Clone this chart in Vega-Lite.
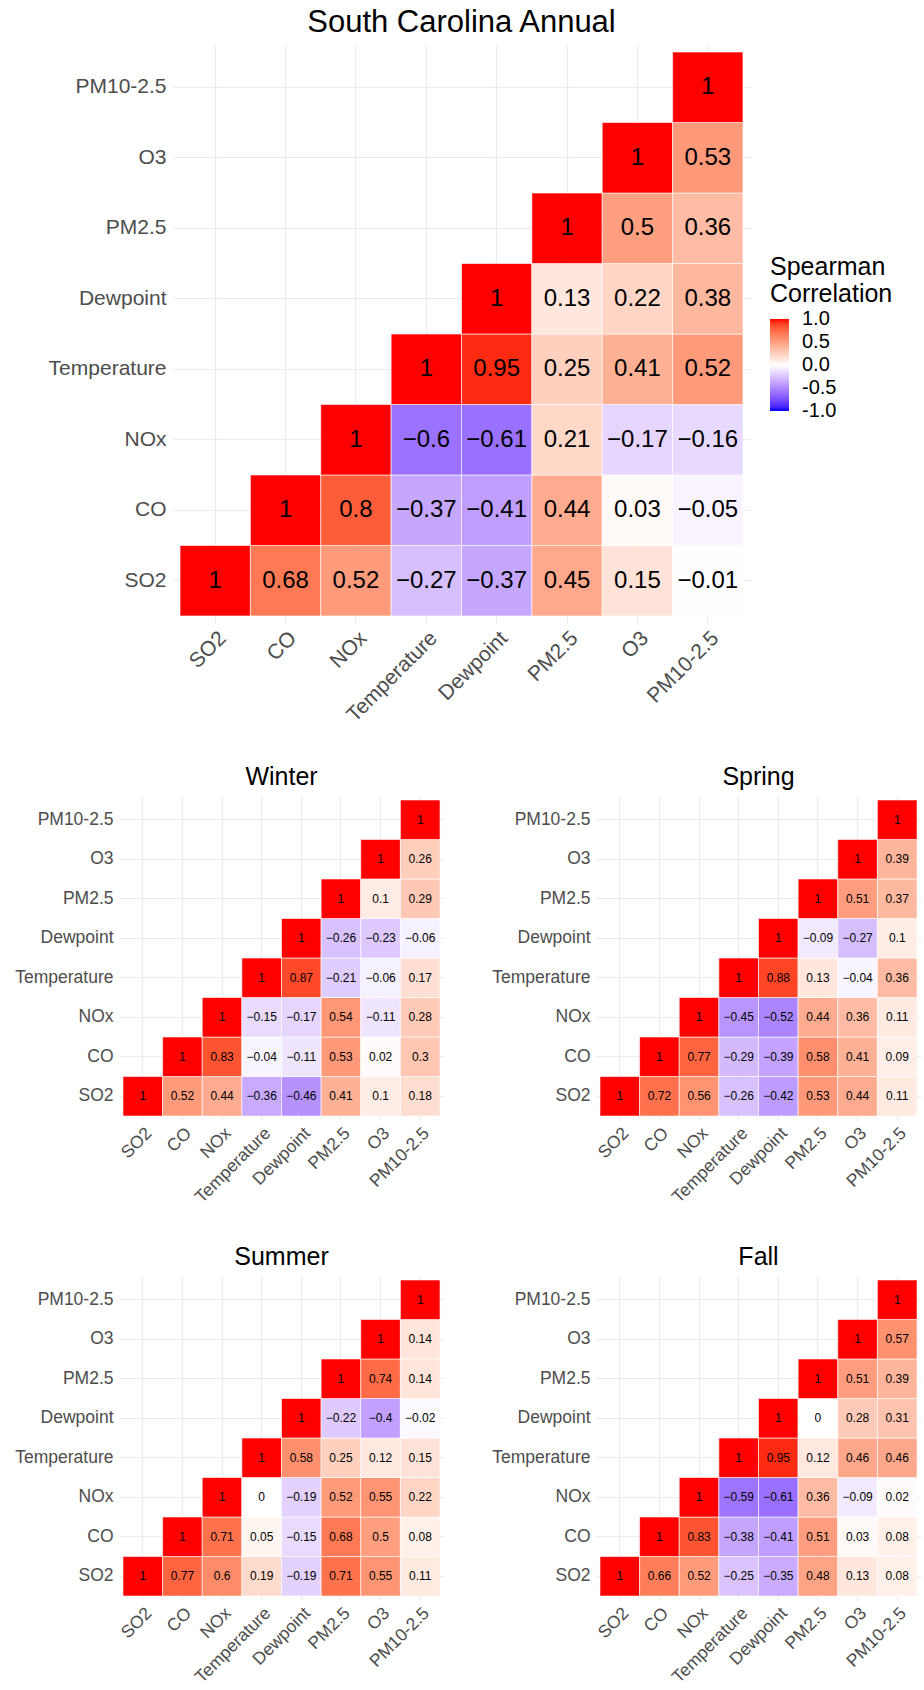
{
  "$schema": "https://vega.github.io/schema/vega-lite/v6.json",
  "padding": {"left": 14, "top": 7, "right": 4, "bottom": 4},
  "config": {
    "view": {"stroke": null},
    "font": "Liberation Sans",
    "axis": {"domain": false, "ticks": false, "tickSize": 0, "zindex": 0, "gridColor": "#EBEBEB", "gridWidth": 1.1, "labelColor": "#4D4D4D", "labelFont": "Liberation Sans", "bandPosition": 0.5, "labelOverlap": false, "labelBound": false, "labelLimit": 300},
    "title": {"font": "Liberation Sans", "fontWeight": "normal", "color": "black", "anchor": "middle", "frame": "group", "baseline": "alphabetic"}
  },
  "datasets": {
    "annual": [
      {"x": "SO2", "y": "SO2", "r": 1}, {"x": "CO", "y": "SO2", "r": 0.68}, {"x": "NOx", "y": "SO2", "r": 0.52}, {"x": "Temperature", "y": "SO2", "r": -0.27}, {"x": "Dewpoint", "y": "SO2", "r": -0.37}, {"x": "PM2.5", "y": "SO2", "r": 0.45}, {"x": "O3", "y": "SO2", "r": 0.15}, {"x": "PM10-2.5", "y": "SO2", "r": -0.01},
      {"x": "CO", "y": "CO", "r": 1}, {"x": "NOx", "y": "CO", "r": 0.8}, {"x": "Temperature", "y": "CO", "r": -0.37}, {"x": "Dewpoint", "y": "CO", "r": -0.41}, {"x": "PM2.5", "y": "CO", "r": 0.44}, {"x": "O3", "y": "CO", "r": 0.03}, {"x": "PM10-2.5", "y": "CO", "r": -0.05},
      {"x": "NOx", "y": "NOx", "r": 1}, {"x": "Temperature", "y": "NOx", "r": -0.6}, {"x": "Dewpoint", "y": "NOx", "r": -0.61}, {"x": "PM2.5", "y": "NOx", "r": 0.21}, {"x": "O3", "y": "NOx", "r": -0.17}, {"x": "PM10-2.5", "y": "NOx", "r": -0.16},
      {"x": "Temperature", "y": "Temperature", "r": 1}, {"x": "Dewpoint", "y": "Temperature", "r": 0.95}, {"x": "PM2.5", "y": "Temperature", "r": 0.25}, {"x": "O3", "y": "Temperature", "r": 0.41}, {"x": "PM10-2.5", "y": "Temperature", "r": 0.52},
      {"x": "Dewpoint", "y": "Dewpoint", "r": 1}, {"x": "PM2.5", "y": "Dewpoint", "r": 0.13}, {"x": "O3", "y": "Dewpoint", "r": 0.22}, {"x": "PM10-2.5", "y": "Dewpoint", "r": 0.38},
      {"x": "PM2.5", "y": "PM2.5", "r": 1}, {"x": "O3", "y": "PM2.5", "r": 0.5}, {"x": "PM10-2.5", "y": "PM2.5", "r": 0.36},
      {"x": "O3", "y": "O3", "r": 1}, {"x": "PM10-2.5", "y": "O3", "r": 0.53},
      {"x": "PM10-2.5", "y": "PM10-2.5", "r": 1}
    ],
    "winter": [
      {"x": "SO2", "y": "SO2", "r": 1}, {"x": "CO", "y": "SO2", "r": 0.52}, {"x": "NOx", "y": "SO2", "r": 0.44}, {"x": "Temperature", "y": "SO2", "r": -0.36}, {"x": "Dewpoint", "y": "SO2", "r": -0.46}, {"x": "PM2.5", "y": "SO2", "r": 0.41}, {"x": "O3", "y": "SO2", "r": 0.1}, {"x": "PM10-2.5", "y": "SO2", "r": 0.18},
      {"x": "CO", "y": "CO", "r": 1}, {"x": "NOx", "y": "CO", "r": 0.83}, {"x": "Temperature", "y": "CO", "r": -0.04}, {"x": "Dewpoint", "y": "CO", "r": -0.11}, {"x": "PM2.5", "y": "CO", "r": 0.53}, {"x": "O3", "y": "CO", "r": 0.02}, {"x": "PM10-2.5", "y": "CO", "r": 0.3},
      {"x": "NOx", "y": "NOx", "r": 1}, {"x": "Temperature", "y": "NOx", "r": -0.15}, {"x": "Dewpoint", "y": "NOx", "r": -0.17}, {"x": "PM2.5", "y": "NOx", "r": 0.54}, {"x": "O3", "y": "NOx", "r": -0.11}, {"x": "PM10-2.5", "y": "NOx", "r": 0.28},
      {"x": "Temperature", "y": "Temperature", "r": 1}, {"x": "Dewpoint", "y": "Temperature", "r": 0.87}, {"x": "PM2.5", "y": "Temperature", "r": -0.21}, {"x": "O3", "y": "Temperature", "r": -0.06}, {"x": "PM10-2.5", "y": "Temperature", "r": 0.17},
      {"x": "Dewpoint", "y": "Dewpoint", "r": 1}, {"x": "PM2.5", "y": "Dewpoint", "r": -0.26}, {"x": "O3", "y": "Dewpoint", "r": -0.23}, {"x": "PM10-2.5", "y": "Dewpoint", "r": -0.06},
      {"x": "PM2.5", "y": "PM2.5", "r": 1}, {"x": "O3", "y": "PM2.5", "r": 0.1}, {"x": "PM10-2.5", "y": "PM2.5", "r": 0.29},
      {"x": "O3", "y": "O3", "r": 1}, {"x": "PM10-2.5", "y": "O3", "r": 0.26},
      {"x": "PM10-2.5", "y": "PM10-2.5", "r": 1}
    ],
    "spring": [
      {"x": "SO2", "y": "SO2", "r": 1}, {"x": "CO", "y": "SO2", "r": 0.72}, {"x": "NOx", "y": "SO2", "r": 0.56}, {"x": "Temperature", "y": "SO2", "r": -0.26}, {"x": "Dewpoint", "y": "SO2", "r": -0.42}, {"x": "PM2.5", "y": "SO2", "r": 0.53}, {"x": "O3", "y": "SO2", "r": 0.44}, {"x": "PM10-2.5", "y": "SO2", "r": 0.11},
      {"x": "CO", "y": "CO", "r": 1}, {"x": "NOx", "y": "CO", "r": 0.77}, {"x": "Temperature", "y": "CO", "r": -0.29}, {"x": "Dewpoint", "y": "CO", "r": -0.39}, {"x": "PM2.5", "y": "CO", "r": 0.58}, {"x": "O3", "y": "CO", "r": 0.41}, {"x": "PM10-2.5", "y": "CO", "r": 0.09},
      {"x": "NOx", "y": "NOx", "r": 1}, {"x": "Temperature", "y": "NOx", "r": -0.45}, {"x": "Dewpoint", "y": "NOx", "r": -0.52}, {"x": "PM2.5", "y": "NOx", "r": 0.44}, {"x": "O3", "y": "NOx", "r": 0.36}, {"x": "PM10-2.5", "y": "NOx", "r": 0.11},
      {"x": "Temperature", "y": "Temperature", "r": 1}, {"x": "Dewpoint", "y": "Temperature", "r": 0.88}, {"x": "PM2.5", "y": "Temperature", "r": 0.13}, {"x": "O3", "y": "Temperature", "r": -0.04}, {"x": "PM10-2.5", "y": "Temperature", "r": 0.36},
      {"x": "Dewpoint", "y": "Dewpoint", "r": 1}, {"x": "PM2.5", "y": "Dewpoint", "r": -0.09}, {"x": "O3", "y": "Dewpoint", "r": -0.27}, {"x": "PM10-2.5", "y": "Dewpoint", "r": 0.1},
      {"x": "PM2.5", "y": "PM2.5", "r": 1}, {"x": "O3", "y": "PM2.5", "r": 0.51}, {"x": "PM10-2.5", "y": "PM2.5", "r": 0.37},
      {"x": "O3", "y": "O3", "r": 1}, {"x": "PM10-2.5", "y": "O3", "r": 0.39},
      {"x": "PM10-2.5", "y": "PM10-2.5", "r": 1}
    ],
    "summer": [
      {"x": "SO2", "y": "SO2", "r": 1}, {"x": "CO", "y": "SO2", "r": 0.77}, {"x": "NOx", "y": "SO2", "r": 0.6}, {"x": "Temperature", "y": "SO2", "r": 0.19}, {"x": "Dewpoint", "y": "SO2", "r": -0.19}, {"x": "PM2.5", "y": "SO2", "r": 0.71}, {"x": "O3", "y": "SO2", "r": 0.55}, {"x": "PM10-2.5", "y": "SO2", "r": 0.11},
      {"x": "CO", "y": "CO", "r": 1}, {"x": "NOx", "y": "CO", "r": 0.71}, {"x": "Temperature", "y": "CO", "r": 0.05}, {"x": "Dewpoint", "y": "CO", "r": -0.15}, {"x": "PM2.5", "y": "CO", "r": 0.68}, {"x": "O3", "y": "CO", "r": 0.5}, {"x": "PM10-2.5", "y": "CO", "r": 0.08},
      {"x": "NOx", "y": "NOx", "r": 1}, {"x": "Temperature", "y": "NOx", "r": 0}, {"x": "Dewpoint", "y": "NOx", "r": -0.19}, {"x": "PM2.5", "y": "NOx", "r": 0.52}, {"x": "O3", "y": "NOx", "r": 0.55}, {"x": "PM10-2.5", "y": "NOx", "r": 0.22},
      {"x": "Temperature", "y": "Temperature", "r": 1}, {"x": "Dewpoint", "y": "Temperature", "r": 0.58}, {"x": "PM2.5", "y": "Temperature", "r": 0.25}, {"x": "O3", "y": "Temperature", "r": 0.12}, {"x": "PM10-2.5", "y": "Temperature", "r": 0.15},
      {"x": "Dewpoint", "y": "Dewpoint", "r": 1}, {"x": "PM2.5", "y": "Dewpoint", "r": -0.22}, {"x": "O3", "y": "Dewpoint", "r": -0.4}, {"x": "PM10-2.5", "y": "Dewpoint", "r": -0.02},
      {"x": "PM2.5", "y": "PM2.5", "r": 1}, {"x": "O3", "y": "PM2.5", "r": 0.74}, {"x": "PM10-2.5", "y": "PM2.5", "r": 0.14},
      {"x": "O3", "y": "O3", "r": 1}, {"x": "PM10-2.5", "y": "O3", "r": 0.14},
      {"x": "PM10-2.5", "y": "PM10-2.5", "r": 1}
    ],
    "fall": [
      {"x": "SO2", "y": "SO2", "r": 1}, {"x": "CO", "y": "SO2", "r": 0.66}, {"x": "NOx", "y": "SO2", "r": 0.52}, {"x": "Temperature", "y": "SO2", "r": -0.25}, {"x": "Dewpoint", "y": "SO2", "r": -0.35}, {"x": "PM2.5", "y": "SO2", "r": 0.48}, {"x": "O3", "y": "SO2", "r": 0.13}, {"x": "PM10-2.5", "y": "SO2", "r": 0.08},
      {"x": "CO", "y": "CO", "r": 1}, {"x": "NOx", "y": "CO", "r": 0.83}, {"x": "Temperature", "y": "CO", "r": -0.38}, {"x": "Dewpoint", "y": "CO", "r": -0.41}, {"x": "PM2.5", "y": "CO", "r": 0.51}, {"x": "O3", "y": "CO", "r": 0.03}, {"x": "PM10-2.5", "y": "CO", "r": 0.08},
      {"x": "NOx", "y": "NOx", "r": 1}, {"x": "Temperature", "y": "NOx", "r": -0.59}, {"x": "Dewpoint", "y": "NOx", "r": -0.61}, {"x": "PM2.5", "y": "NOx", "r": 0.36}, {"x": "O3", "y": "NOx", "r": -0.09}, {"x": "PM10-2.5", "y": "NOx", "r": 0.02},
      {"x": "Temperature", "y": "Temperature", "r": 1}, {"x": "Dewpoint", "y": "Temperature", "r": 0.95}, {"x": "PM2.5", "y": "Temperature", "r": 0.12}, {"x": "O3", "y": "Temperature", "r": 0.46}, {"x": "PM10-2.5", "y": "Temperature", "r": 0.46},
      {"x": "Dewpoint", "y": "Dewpoint", "r": 1}, {"x": "PM2.5", "y": "Dewpoint", "r": 0}, {"x": "O3", "y": "Dewpoint", "r": 0.28}, {"x": "PM10-2.5", "y": "Dewpoint", "r": 0.31},
      {"x": "PM2.5", "y": "PM2.5", "r": 1}, {"x": "O3", "y": "PM2.5", "r": 0.51}, {"x": "PM10-2.5", "y": "PM2.5", "r": 0.39},
      {"x": "O3", "y": "O3", "r": 1}, {"x": "PM10-2.5", "y": "O3", "r": 0.57},
      {"x": "PM10-2.5", "y": "PM10-2.5", "r": 1}
    ]
  },
  "spacing": 39,
  "vconcat": [
    {
      "bounds": "flush",
      "spacing": 53,
      "hconcat": [
        {"width": 1, "height": 1, "data": {"values": [{}]}, "mark": {"type": "text", "text": ""}, "encoding": {}},
        {
          "width": 577, "height": 578,
          "title": {"text": "South Carolina Annual", "fontSize": 31, "offset": 6},
          "data": {"name": "annual"},
          "encoding": {
            "x": {"field": "x", "type": "nominal", "sort": ["SO2", "CO", "NOx", "Temperature", "Dewpoint", "PM2.5", "O3", "PM10-2.5"], "scale": {"paddingInner": 0, "paddingOuter": 0.1}, "axis": {"title": null, "grid": true, "zindex": 0, "labelAngle": -45, "labelAlign": "right", "labelBaseline": "top", "labelFontSize": 21, "labelPadding": 4}},
            "y": {"field": "y", "type": "nominal", "sort": ["PM10-2.5", "O3", "PM2.5", "Dewpoint", "Temperature", "NOx", "CO", "SO2"], "scale": {"paddingInner": 0, "paddingOuter": 0.1}, "axis": {"title": null, "grid": true, "zindex": 0, "labelFontSize": 21, "labelPadding": 7}}
          },
          "layer": [
            {
              "mark": {"type": "rect", "stroke": "white", "strokeWidth": 0.6},
              "encoding": {
                "color": {
                  "field": "r", "type": "quantitative",
                  "scale": {"domain": [-1, 0, 1], "range": ["blue", "white", "red"], "interpolate": "lab"},
                  "legend": {
                    "orient": "none", "legendX": 651, "legendY": 210, "direction": "vertical", "padding": 0,
                    "title": ["Spearman", "Correlation"], "titleFontSize": 25, "titleFont": "Liberation Sans", "titleFontWeight": "normal", "titleColor": "black", "titleLineHeight": 27, "titlePadding": 12,
                    "gradientLength": 92, "gradientThickness": 19, "gradientStrokeWidth": 0,
                    "values": [-1, -0.5, 0, 0.5, 1],
                    "labelExpr": "datum.value < 0 ? '-' + format(-datum.value, '.1f') : format(datum.value, '.1f')",
                    "labelFontSize": 20, "labelFont": "Liberation Sans", "labelColor": "black", "labelOffset": 13, "labelBaseline": "middle", "labelOverlap": false,
                    "encode": {"labels": {"update": {"baseline": {"value": "middle"}}}}
                  }
                }
              }
            },
            {
              "mark": {"type": "text", "fontSize": 24, "color": "black"},
              "encoding": {"text": {"field": "r", "type": "quantitative", "format": "~g"}}
            }
          ]
        }
      ]
    },
    {
      "bounds": "flush",
      "spacing": 152,
      "hconcat": [
        {
          "width": 325, "height": 324,
          "title": {"text": "Winter", "fontSize": 25, "offset": 6},
          "data": {"name": "winter"},
          "encoding": {
            "x": {"field": "x", "type": "nominal", "sort": ["SO2", "CO", "NOx", "Temperature", "Dewpoint", "PM2.5", "O3", "PM10-2.5"], "scale": {"paddingInner": 0, "paddingOuter": 0.1}, "axis": {"title": null, "grid": true, "zindex": 0, "labelAngle": -45, "labelAlign": "right", "labelBaseline": "top", "labelFontSize": 17.5, "labelPadding": 4}},
            "y": {"field": "y", "type": "nominal", "sort": ["PM10-2.5", "O3", "PM2.5", "Dewpoint", "Temperature", "NOx", "CO", "SO2"], "scale": {"paddingInner": 0, "paddingOuter": 0.1}, "axis": {"title": null, "grid": true, "zindex": 0, "labelFontSize": 17.5, "labelPadding": 6}}
          },
          "layer": [
            {"mark": {"type": "rect", "stroke": "white", "strokeWidth": 0.6}, "encoding": {"color": {"field": "r", "type": "quantitative", "scale": {"domain": [-1, 0, 1], "range": ["blue", "white", "red"], "interpolate": "lab"}}}},
            {"mark": {"type": "text", "fontSize": 12, "color": "black"}, "encoding": {"text": {"field": "r", "type": "quantitative", "format": "~g"}}}
          ]
        },
        {
          "width": 325, "height": 324,
          "title": {"text": "Spring", "fontSize": 25, "offset": 6},
          "data": {"name": "spring"},
          "encoding": {
            "x": {"field": "x", "type": "nominal", "sort": ["SO2", "CO", "NOx", "Temperature", "Dewpoint", "PM2.5", "O3", "PM10-2.5"], "scale": {"paddingInner": 0, "paddingOuter": 0.1}, "axis": {"title": null, "grid": true, "zindex": 0, "labelAngle": -45, "labelAlign": "right", "labelBaseline": "top", "labelFontSize": 17.5, "labelPadding": 4}},
            "y": {"field": "y", "type": "nominal", "sort": ["PM10-2.5", "O3", "PM2.5", "Dewpoint", "Temperature", "NOx", "CO", "SO2"], "scale": {"paddingInner": 0, "paddingOuter": 0.1}, "axis": {"title": null, "grid": true, "zindex": 0, "labelFontSize": 17.5, "labelPadding": 6}}
          },
          "layer": [
            {"mark": {"type": "rect", "stroke": "white", "strokeWidth": 0.6}, "encoding": {"color": {"field": "r", "type": "quantitative", "scale": {"domain": [-1, 0, 1], "range": ["blue", "white", "red"], "interpolate": "lab"}}}},
            {"mark": {"type": "text", "fontSize": 12, "color": "black"}, "encoding": {"text": {"field": "r", "type": "quantitative", "format": "~g"}}}
          ]
        }
      ]
    },
    {
      "bounds": "flush",
      "spacing": 152,
      "hconcat": [
        {
          "width": 325, "height": 324,
          "title": {"text": "Summer", "fontSize": 25, "offset": 6},
          "data": {"name": "summer"},
          "encoding": {
            "x": {"field": "x", "type": "nominal", "sort": ["SO2", "CO", "NOx", "Temperature", "Dewpoint", "PM2.5", "O3", "PM10-2.5"], "scale": {"paddingInner": 0, "paddingOuter": 0.1}, "axis": {"title": null, "grid": true, "zindex": 0, "labelAngle": -45, "labelAlign": "right", "labelBaseline": "top", "labelFontSize": 17.5, "labelPadding": 4}},
            "y": {"field": "y", "type": "nominal", "sort": ["PM10-2.5", "O3", "PM2.5", "Dewpoint", "Temperature", "NOx", "CO", "SO2"], "scale": {"paddingInner": 0, "paddingOuter": 0.1}, "axis": {"title": null, "grid": true, "zindex": 0, "labelFontSize": 17.5, "labelPadding": 6}}
          },
          "layer": [
            {"mark": {"type": "rect", "stroke": "white", "strokeWidth": 0.6}, "encoding": {"color": {"field": "r", "type": "quantitative", "scale": {"domain": [-1, 0, 1], "range": ["blue", "white", "red"], "interpolate": "lab"}}}},
            {"mark": {"type": "text", "fontSize": 12, "color": "black"}, "encoding": {"text": {"field": "r", "type": "quantitative", "format": "~g"}}}
          ]
        },
        {
          "width": 325, "height": 324,
          "title": {"text": "Fall", "fontSize": 25, "offset": 6},
          "data": {"name": "fall"},
          "encoding": {
            "x": {"field": "x", "type": "nominal", "sort": ["SO2", "CO", "NOx", "Temperature", "Dewpoint", "PM2.5", "O3", "PM10-2.5"], "scale": {"paddingInner": 0, "paddingOuter": 0.1}, "axis": {"title": null, "grid": true, "zindex": 0, "labelAngle": -45, "labelAlign": "right", "labelBaseline": "top", "labelFontSize": 17.5, "labelPadding": 4}},
            "y": {"field": "y", "type": "nominal", "sort": ["PM10-2.5", "O3", "PM2.5", "Dewpoint", "Temperature", "NOx", "CO", "SO2"], "scale": {"paddingInner": 0, "paddingOuter": 0.1}, "axis": {"title": null, "grid": true, "zindex": 0, "labelFontSize": 17.5, "labelPadding": 6}}
          },
          "layer": [
            {"mark": {"type": "rect", "stroke": "white", "strokeWidth": 0.6}, "encoding": {"color": {"field": "r", "type": "quantitative", "scale": {"domain": [-1, 0, 1], "range": ["blue", "white", "red"], "interpolate": "lab"}}}},
            {"mark": {"type": "text", "fontSize": 12, "color": "black"}, "encoding": {"text": {"field": "r", "type": "quantitative", "format": "~g"}}}
          ]
        }
      ]
    }
  ]
}
